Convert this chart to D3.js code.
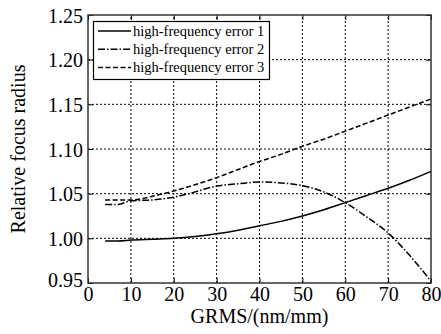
<!DOCTYPE html>
<html><head><meta charset="utf-8">
<script src="https://cdn.jsdelivr.net/npm/d3@7"></script>
<style>body{margin:0;background:#fff}svg{display:block}text{font-family:"Liberation Serif","Times New Roman",serif;fill:#000}</style>
</head><body>
<script>
const xValues = [4,7,10,15,20,25,30,35,40,45,50,55,60,65,70,75,80];
const error1 = [0.997,0.997,0.998,0.999,1.000,1.002,1.005,1.009,1.014,1.019,1.025,1.032,1.040,1.048,1.056,1.065,1.075];
const error2 = [1.038,1.038,1.042,1.043,1.046,1.052,1.0585,1.061,1.063,1.062,1.059,1.052,1.040,1.024,1.006,0.981,0.952];
const error3 = [1.043,1.043,1.043,1.047,1.053,1.060,1.068,1.077,1.086,1.094,1.103,1.111,1.120,1.129,1.138,1.147,1.156];
const seriesNames = ["high-frequency error 1","high-frequency error 2","high-frequency error 3"];
const xTicks = [0,10,20,30,40,50,60,70,80];
const yTicks = [0.95,1.00,1.05,1.10,1.15,1.20,1.25];
const xTitle = "GRMS/(nm/mm)";
const yTitle = "Relative focus radius";

const W=441,H=334;
const m={l:88,t:15,r:10,b:51};
const FONT='"Liberation Serif","Times New Roman",serif';
const svg=d3.select("body").append("svg").attr("width",W).attr("height",H);
const x=d3.scaleLinear().domain([0,80]).range([m.l,W-m.r]);
const y=d3.scaleLinear().domain([0.95,1.25]).range([H-m.b,m.t]);

// grid
const g=svg.append("g");
g.selectAll("line.gx").data(xTicks.slice(1,-1)).enter().append("line")
 .attr("x1",d=>x(d)).attr("x2",d=>x(d)).attr("y1",y(0.95)).attr("y2",y(1.25))
 .attr("stroke","#000").attr("stroke-width",1).attr("stroke-dasharray","2,2");
g.selectAll("line.gy").data(yTicks.slice(1,-1)).enter().append("line")
 .attr("y1",d=>y(d)).attr("y2",d=>y(d)).attr("x1",x(0)).attr("x2",x(80))
 .attr("stroke","#000").attr("stroke-width",1).attr("stroke-dasharray","2,2");

// axes
const fmtY=d3.format(".2f");
const ax=svg.append("g").attr("transform",`translate(0,${y(0.95)})`)
 .call(d3.axisBottom(x).tickValues(xTicks).tickSize(-5).tickPadding(7).tickFormat(d3.format("d")));
const ay=svg.append("g").attr("transform",`translate(${x(0)},0)`)
 .call(d3.axisLeft(y).tickValues(yTicks).tickSize(-5).tickPadding(5).tickFormat(fmtY));
const at=svg.append("g").attr("transform",`translate(0,${y(1.25)})`)
 .call(d3.axisTop(x).tickValues(xTicks).tickSize(-5).tickFormat(""));
const ar=svg.append("g").attr("transform",`translate(${x(80)},0)`)
 .call(d3.axisRight(y).tickValues(yTicks).tickSize(-5).tickFormat(""));
[ax,ay,at,ar].forEach(a=>{a.select(".domain").remove();a.selectAll("line").attr("stroke","#000");a.attr("font-family",null).attr("font-size",null);});
ax.selectAll("text").style("font-family",FONT).style("font-size","20px").attr("dy","0.55em");
ay.selectAll("text").style("font-family",FONT).style("font-size","20px").attr("dy","0.35em");
ay.selectAll(".tick").filter(d=>d===0.95).select("text").attr("dy","0.15em");

// frame
svg.append("rect").attr("x",x(0)).attr("y",y(1.25)).attr("width",x(80)-x(0)).attr("height",y(0.95)-y(1.25))
 .attr("fill","none").attr("stroke","#333").attr("stroke-width",1.5);

// lines
const series=[error1,error2,error3];
const dashes=[null,"7,2,1.5,2","5,2.5"];
const line=d3.line().x((d,i)=>x(xValues[i])).y(d=>y(d)).curve(d3.curveMonotoneX);
series.forEach((s,k)=>{
 svg.append("path").datum(s).attr("d",line).attr("fill","none").attr("stroke","#000")
  .attr("stroke-width",1.5).attr("stroke-dasharray",dashes[k]);
});

// legend
const lg=svg.append("g");
lg.append("rect").attr("x",93.5).attr("y",21.5).attr("width",176).attr("height",58)
 .attr("fill","#fff").attr("stroke","#000").attr("stroke-width",1.2);
seriesNames.forEach((n,k)=>{
 const yy=31+k*18.3;
 lg.append("line").attr("x1",98).attr("x2",131).attr("y1",yy).attr("y2",yy)
  .attr("stroke","#000").attr("stroke-width",1.5).attr("stroke-dasharray",dashes[k]);
 lg.append("text").attr("x",133).attr("y",yy).attr("dy","0.32em").style("font-family",FONT).style("font-size","14.5px").text(n);
});

// titles
svg.append("text").attr("x",(x(0)+x(80))/2).attr("y",323).attr("text-anchor","middle").style("font-family",FONT).style("font-size","20px").text(xTitle);
svg.append("text").attr("transform",`translate(25,${(y(0.95)+y(1.25))/2}) rotate(-90)`).attr("text-anchor","middle").style("font-family",FONT).style("font-size","20px").text(yTitle);
</script>
</body></html>
